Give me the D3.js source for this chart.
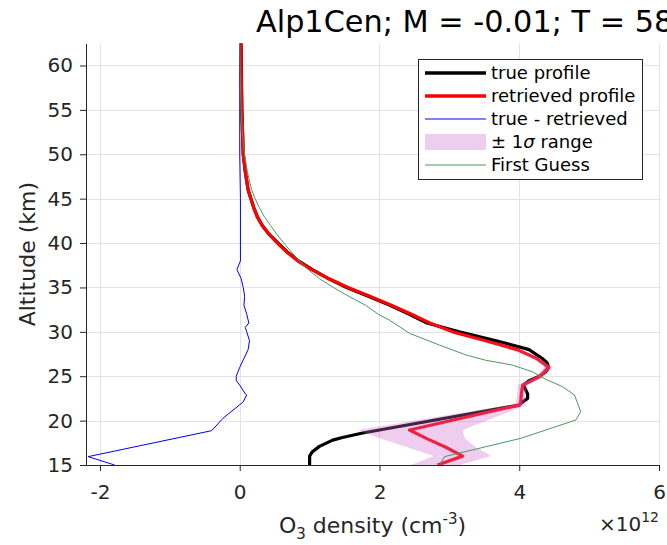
<!DOCTYPE html>
<html>
<head>
<meta charset="utf-8">
<script src="https://cdn.jsdelivr.net/npm/d3@7"></script>
<style>
  body { margin: 0; background: #fff; }
  svg { display: block; font-family: "DejaVu Sans", sans-serif; }
</style>
</head>
<body>
<svg id="chart" width="667" height="545"></svg>
<script>
// Ozone number density profiles, values in units of 1e12 cm^-3, altitude in km
const xTicks = [-2, 0, 2, 4, 6];
const yTicks = [15, 20, 25, 30, 35, 40, 45, 50, 55, 60];

const trueAlt = [62.5, 55, 50, 48, 46, 45, 44, 43, 42, 41, 40, 39, 38, 37, 36, 35, 34, 33, 32, 31, 30, 29, 28, 27, 26.5, 26, 25.5, 25, 24.5, 24, 23.5, 23, 22.5, 22, 21.75, 18.6, 18.1, 17.8, 17.1, 16.5, 16, 15];
const trueVal = [0.02, 0.03, 0.05, 0.08, 0.12, 0.16, 0.2, 0.25, 0.32, 0.42, 0.55, 0.68, 0.84, 1.04, 1.27, 1.53, 1.84, 2.15, 2.42, 2.68, 3.14, 3.67, 4.14, 4.33, 4.4, 4.42, 4.38, 4.29, 4.14, 4.06, 4.09, 4.12, 4.12, 4.03, 4.0, 1.76, 1.47, 1.33, 1.14, 1.04, 1.0, 1.0];

const retAlt = [62.5, 60, 55, 50, 48, 46, 45, 44, 43, 42, 41, 40, 39, 38, 37, 36, 35, 34, 33, 32, 31, 30, 29, 28, 27, 26, 25, 24, 23, 22, 21.75, 18.94, 18, 17, 16, 15];
const retVal = [0.02, 0.02, 0.03, 0.05, 0.08, 0.12, 0.16, 0.2, 0.25, 0.32, 0.42, 0.54, 0.67, 0.83, 1.03, 1.27, 1.55, 1.86, 2.17, 2.45, 2.72, 3.05, 3.52, 3.97, 4.25, 4.42, 4.3, 4.05, 4.03, 4.02, 4.0, 2.43, 2.67, 2.95, 3.19, 2.83];

const diffAlt = [62.5, 50, 45, 40, 38, 37, 36, 35, 34, 33, 32, 31, 30.5, 30, 29, 28, 27, 26, 25, 24.5, 24, 23, 22.9, 22.1, 20.26, 18.87, 15.94, 15];
const diffVal = [0.0, 0.0, 0.01, 0.01, 0.01, -0.04, 0.02, 0.05, 0.07, 0.06, 0.1, 0.13, 0.08, 0.1, 0.14, 0.12, 0.06, 0.0, -0.05, -0.05, 0.0, 0.08, 0.1, 0.05, -0.24, -0.4, -2.17, -1.79];

// ±1σ envelope of the retrieval (only noticeably wide below 30 km)
const sigAlt = [31, 30, 29, 28, 27, 26, 25, 24, 23, 22, 21.75, 18.94, 18, 17, 16, 15];
const sigLow = [2.71, 3.04, 3.5, 3.94, 4.2, 4.36, 4.24, 3.98, 3.97, 3.95, 3.85, 1.69, 2.0, 2.4, 2.78, 2.45];
const sigHigh = [2.73, 3.06, 3.54, 4.0, 4.3, 4.48, 4.36, 4.12, 4.09, 4.09, 4.1, 3.19, 3.22, 3.38, 3.6, 3.15];

const fgAlt = [62.5, 58, 55, 52, 50, 48, 46, 45, 44, 43, 42, 41, 40, 39, 38, 37, 36, 35, 34, 33, 32, 31.33, 29.83, 28.5, 27.39, 26.8, 26.26, 25.5, 24.65, 23.82, 22.9, 21, 20.07, 18, 15.94, 15];
const fgVal = [0.0, 0.01, 0.02, 0.04, 0.07, 0.11, 0.17, 0.22, 0.28, 0.35, 0.44, 0.53, 0.63, 0.74, 0.85, 0.98, 1.14, 1.34, 1.56, 1.8, 1.98, 2.14, 2.43, 2.86, 3.24, 3.52, 3.9, 4.19, 4.38, 4.62, 4.79, 4.88, 4.81, 4.02, 2.93, 2.86];

const legendLabels = ["true profile", "retrieved profile", "true - retrieved", "\u00B1 1\u03C3 range", "First Guess"];

const axisColor = "#262626";
const svg = d3.select("#chart");

const plotL = 86, plotR = 659, plotT = 43.3, plotB = 465;
const x = d3.scaleLinear().domain([-2.2, 6]).range([plotL, plotR]);
const y = d3.scaleLinear().domain([15, 62.5]).range([plotB, plotT]);

const zip = (a, v) => a.map((alt, i) => ({ alt, v: v[i] }));

// grid
const grid = svg.append("g").attr("stroke", "#e3e3e3").attr("stroke-width", 1);
grid.selectAll("line.gx").data(xTicks).join("line")
  .attr("x1", d => Math.round(x(d)) + 0.5).attr("x2", d => Math.round(x(d)) + 0.5)
  .attr("y1", plotT).attr("y2", plotB);
grid.selectAll("line.gy").data(yTicks).join("line")
  .attr("x1", plotL).attr("x2", plotR)
  .attr("y1", d => Math.round(y(d)) + 0.5).attr("y2", d => Math.round(y(d)) + 0.5);

svg.append("clipPath").attr("id", "plotClip")
  .append("rect").attr("x", plotL).attr("y", plotT).attr("width", plotR - plotL).attr("height", plotB - plotT);

const plot = svg.append("g").attr("clip-path", "url(#plotClip)");
const line = d3.line().x(d => x(d.v)).y(d => y(d.alt));

plot.append("path").datum(zip(trueAlt, trueVal))
  .attr("d", line).attr("fill", "none").attr("stroke", "#000").attr("stroke-width", 3.2)
  .attr("stroke-linejoin", "round");
plot.append("path").datum(zip(retAlt, retVal))
  .attr("d", line).attr("fill", "none").attr("stroke", "#ff0000").attr("stroke-width", 3.2)
  .attr("stroke-linejoin", "round");
plot.append("path").datum(zip(diffAlt, diffVal))
  .attr("d", line).attr("fill", "none").attr("stroke", "#0000ff").attr("stroke-width", 1);

const bandFill = "rgb(204,102,204)";
const bandOpacity = 0.33;
const area = d3.area().y(d => y(d.alt)).x0(d => x(d.lo)).x1(d => x(d.hi));
plot.append("path").datum(sigAlt.map((alt, i) => ({ alt, lo: sigLow[i], hi: sigHigh[i] })))
  .attr("d", area).attr("fill", bandFill).attr("fill-opacity", bandOpacity);

plot.append("path").datum(zip(fgAlt, fgVal))
  .attr("d", line).attr("fill", "none").attr("stroke", "rgb(77,150,100)").attr("stroke-width", 1);

// axes
const xAxis = svg.append("g").attr("transform", `translate(0,${plotB})`)
  .call(d3.axisBottom(x).tickValues(xTicks).tickFormat(d3.format("d")).tickSize(6).tickSizeOuter(0).tickPadding(14));
const yAxis = svg.append("g").attr("transform", `translate(${plotL},0)`)
  .call(d3.axisLeft(y).tickValues(yTicks).tickFormat(d3.format("d")).tickSize(6).tickSizeOuter(0).tickPadding(7));
[xAxis, yAxis].forEach(g => {
  g.attr("font-family", "DejaVu Sans").attr("font-size", 20);
  g.select(".domain").attr("stroke", axisColor);
  g.selectAll(".tick line").attr("stroke", axisColor);
  g.selectAll(".tick text").attr("fill", axisColor);
});
xAxis.selectAll(".tick text").text(d => d < 0 ? "-" + Math.abs(d) : d);

// axis labels
const xl = svg.append("text").attr("x", (plotL + plotR) / 2).attr("y", 533)
  .attr("text-anchor", "middle").attr("font-size", 22).attr("fill", axisColor);
xl.append("tspan").text("O");
xl.append("tspan").attr("font-size", 15).attr("dy", 6).text("3");
xl.append("tspan").attr("dy", -6).text(" density (cm");
xl.append("tspan").attr("font-size", 15).attr("dy", -9).text("-3");
xl.append("tspan").attr("dy", 9).text(")");

svg.append("text").attr("transform", `translate(35,${(plotT + plotB) / 2}) rotate(-90)`)
  .attr("text-anchor", "middle").attr("font-size", 22).attr("fill", axisColor)
  .text("Altitude (km)");

const ex = svg.append("text").attr("x", plotR).attr("y", 531)
  .attr("text-anchor", "end").attr("font-size", 20).attr("fill", axisColor);
ex.append("tspan").text("\u00D710");
ex.append("tspan").attr("font-size", 14).attr("dy", -9).text("12");

// title
svg.append("text").attr("x", 256).attr("y", 32).attr("font-size", 30.3).attr("fill", "#000")
  .text("Alp1Cen; M = -0.01; T = 58");

// legend
const lg = svg.append("g");
lg.append("rect").attr("x", 418.5).attr("y", 59.5).attr("width", 224).attr("height", 120)
  .attr("fill", "#fff").attr("stroke", axisColor).attr("stroke-width", 1);
const rowY = [73, 96, 119, 142, 165];
const sx0 = 425, sx1 = 486;
lg.append("line").attr("x1", sx0).attr("x2", sx1).attr("y1", rowY[0]).attr("y2", rowY[0]).attr("stroke", "#000").attr("stroke-width", 3.6);
lg.append("line").attr("x1", sx0).attr("x2", sx1).attr("y1", rowY[1]).attr("y2", rowY[1]).attr("stroke", "#ff0000").attr("stroke-width", 3.6);
lg.append("line").attr("x1", sx0).attr("x2", sx1).attr("y1", rowY[2]).attr("y2", rowY[2]).attr("stroke", "#0000ff").attr("stroke-width", 1);
lg.append("rect").attr("x", sx0).attr("y", rowY[3] - 8).attr("width", sx1 - sx0).attr("height", 16)
  .attr("fill", bandFill).attr("fill-opacity", bandOpacity);
lg.append("line").attr("x1", sx0).attr("x2", sx1).attr("y1", rowY[4]).attr("y2", rowY[4]).attr("stroke", "rgb(77,150,100)").attr("stroke-width", 1);
const lt = lg.selectAll("text.lab").data(legendLabels).join("text")
  .attr("x", 491).attr("y", (d, i) => rowY[i]).attr("dy", "0.36em")
  .attr("font-size", 18).attr("fill", "#000");
lt.each(function (d) {
  const t = d3.select(this);
  const k = d.indexOf("\u03C3");
  if (k < 0) { t.text(d); return; }
  t.append("tspan").text(d.slice(0, k));
  t.append("tspan").attr("font-style", "italic").text("\u03C3");
  t.append("tspan").text(d.slice(k + 1));
});
</script>
</body>
</html>
